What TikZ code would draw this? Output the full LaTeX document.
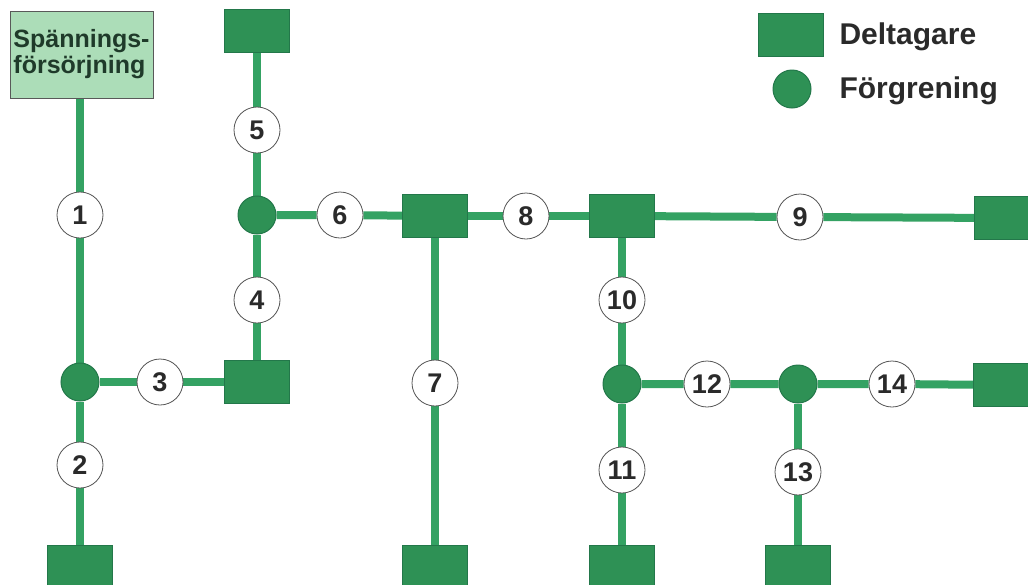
\documentclass[tikz,border=0pt]{standalone}
\usepackage{fontspec}
\setmainfont{Liberation Sans}
\usetikzlibrary{backgrounds}
\definecolor{wire}{HTML}{34A263}
\definecolor{boxfill}{HTML}{2E9155}
\definecolor{boxedge}{HTML}{23774A}
\definecolor{psfill}{HTML}{ACDDB8}
\definecolor{txt}{HTML}{2A2A2A}
\definecolor{pstxt}{HTML}{1F3A2A}
\tikzset{
  dev/.style={draw=boxedge, line width=1pt, fill=boxfill, minimum width=65pt, minimum height=43pt, inner sep=0pt},
  junc/.style={circle, draw=boxedge, line width=1pt, fill=boxfill, minimum size=38pt, inner sep=0pt},
  num/.style={circle, draw=txt!80, line width=0.8pt, fill=white, minimum size=46pt, inner sep=0pt,
    font=\fontsize{27}{30}\selectfont\bfseries, text=txt},
  wireline/.style={draw=wire, line width=8pt},
  legtxt/.style={anchor=west, font=\fontsize{30}{34}\selectfont\bfseries, text=txt}
}
\begin{document}
\begin{tikzpicture}[x=1pt,y=-1pt]
\useasboundingbox (0,0) rectangle (1028,584);
% power supply
\node[draw=black!65, line width=1pt, fill=psfill, minimum width=143pt, minimum height=87pt, inner sep=0pt,
  align=left, font=\fontsize{25}{26}\selectfont\bfseries, text=pstxt] (ps) at (81.5,54.5) {Spännings-\\försörjning};
% devices
\node[dev] (d1) at (80,567) {};
\node[dev] (d2) at (257,382) {};
\node[dev] (d3) at (257,31) {};
\node[dev] (d4) at (435,216) {};
\node[dev] (d5) at (435,567) {};
\node[dev] (d6) at (622,216) {};
\node[dev] (d7) at (1007,218) {};
\node[dev] (d8) at (622,567) {};
\node[dev] (d9) at (798,567) {};
\node[dev] (d10) at (1006,385) {};
% junctions
\node[junc] (ja) at (80,382) {};
\node[junc] (jb) at (257,215) {};
\node[junc] (jc) at (622,384) {};
\node[junc] (jd) at (798,384) {};
% numbered cables
\node[num] (n1) at (80,215) {1};
\node[num] (n2) at (80,465) {2};
\node[num] (n3) at (160,382) {3};
\node[num] (n4) at (257,300) {4};
\node[num] (n5) at (257,130) {5};
\node[num] (n6) at (340,215) {6};
\node[num] (n7) at (435,383) {7};
\node[num] (n8) at (526,216) {8};
\node[num] (n9) at (800,217) {9};
\node[num] (n10) at (622,300) {10};
\node[num] (n11) at (622,470) {11};
\node[num] (n12) at (707,384) {12};
\node[num] (n13) at (798,472) {13};
\node[num] (n14) at (892,384) {14};
% legend
\node[dev] (lgd) at (791,35) {};
\node[legtxt] (lgdt) at (836,37) {Deltagare};
\node[junc] (lgj) at (792,89) {};
\node[legtxt] (lgjt) at (836,91) {Förgrening};
\begin{scope}[on background layer]
\draw[wireline] (ps.south -| n1) -- (n1) -- (ja) -- (n2) -- (d1);
\draw[wireline] (ja) -- (n3) -- (d2);
\draw[wireline] (d2) -- (n4) -- (jb) -- (n5) -- (d3);
\draw[wireline] (jb) -- (n6) -- (d4);
\draw[wireline] (d4) -- (n7) -- (d5);
\draw[wireline] (d4) -- (n8) -- (d6);
\draw[wireline] (d6) -- (n9) -- (d7);
\draw[wireline] (d6) -- (n10) -- (jc) -- (n11) -- (d8);
\draw[wireline] (jc) -- (n12) -- (jd) -- (n14) -- (d10);
\draw[wireline] (jd) -- (n13) -- (d9);
\end{scope}
\end{tikzpicture}
\end{document}
